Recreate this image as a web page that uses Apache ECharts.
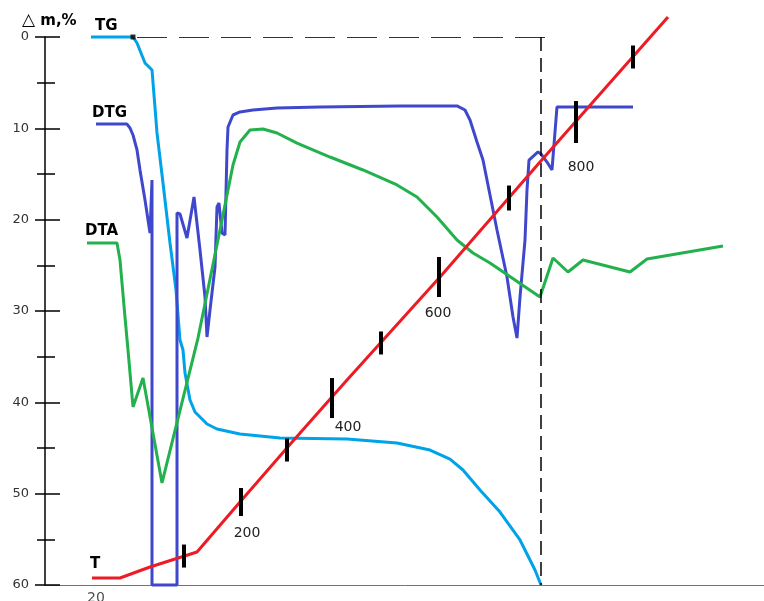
<!DOCTYPE html>
<html><head><meta charset="utf-8">
<script src="https://cdn.jsdelivr.net/npm/echarts/dist/echarts.min.js"></script>
<style>html,body{margin:0;padding:0;background:#fff}#c{width:764px;height:601px}</style>
</head><body><div id="c"></div>
<script>
// x: abstract time axis (not labelled); y: mass change Δm, % (inverted)
const yTicks = [0, 10, 20, 30, 40, 50, 60];

const tgX = [46,88,92,100,107,112,118,125,131,135,138,140,145,150,155,162,172,195,235,302,352,385,405,418,435,455,475,490,496];
const tgY = [0,0,0.66,2.85,3.61,10.51,15.99,22.55,27.70,33.18,34.27,36.79,39.74,41.06,41.61,42.37,42.92,43.47,43.91,44.01,44.45,45.22,46.21,47.41,49.60,52.01,55.07,58.36,60];

const dtgX = [51,82,85,88,92,95,100,105,107,107,132,132,135,142,149,155,160,162,165,170,172,174,177,180,182,183,188,195,208,232,275,355,412,420,425,432,438,445,452,462,468,472,475,480,482,484,493,496,502,507,508,512,588];
const dtgY = [9.53,9.53,9.96,10.73,12.37,14.56,17.85,21.46,15.66,60,60,19.27,19.38,22.01,17.52,23.32,28.47,32.85,29.89,25.18,18.61,18.18,21.46,21.68,12.37,9.85,8.54,8.21,7.99,7.77,7.66,7.55,7.55,7.99,9.09,11.50,13.47,17.30,21.13,26.28,30.66,32.96,28.47,22.23,16.75,13.47,12.59,12.81,13.69,14.56,13.14,7.66,7.66];

const dtaX = [42,72,75,80,83,88,98,117,153,175,181,188,195,205,218,232,252,285,318,352,372,392,412,428,445,495,508,523,538,585,602,678];
const dtaY = [22.55,22.55,24.42,30.66,34.27,40.51,37.34,48.83,32.96,21.13,17.85,14.01,11.50,10.18,10.07,10.51,11.61,13.14,14.56,16.20,17.52,19.71,22.23,23.65,24.74,28.47,24.20,25.73,24.42,25.73,24.31,22.88];

const tX = [47,75,105,152,195,248,302,395,495,623];
const tY = [59.23,59.23,58.03,56.39,50.91,44.23,37.55,26.28,13.69,-2.19];

// temperature marks along the T curve
const tickTemp = [100,200,300,400,500,600,700,800,900];
const tickX = [139,196,242,287,336,394,464,531,588];
const tickY = [56.83,50.91,45.22,39.53,33.50,26.28,17.63,9.31,2.19];
const labelledTemps = [200,400,600,800];
const startTemp = '20';

// reference lines (x of the vertical dashed line, extent of the horizontal one)
const guideX = 496;
const guideHStart = 92, guideHEnd = 508;

// ---- styling ----
const tickHeight = {100:23,200:28,300:23,400:40,500:23,600:40,700:25,800:42,900:23};
const labelOffset = {200:[6,31],400:[16,29],600:[-1,36],800:[5,45]};
const FONT = '"DejaVu Sans", Verdana, sans-serif';

const zip = (a, b) => a.map((v, i) => [v, b[i]]);

const tickData = tickTemp.map((t, i) => ({
  value: [tickX[i], tickY[i]],
  symbolSize: [4, tickHeight[t]],
  label: labelledTemps.includes(t)
    ? { show: true, formatter: String(t), position: 'inside', offset: labelOffset[t], color: '#222', fontSize: 14, fontFamily: FONT }
    : { show: false }
}));

const chart = echarts.init(document.getElementById('c'));
const baseY = {
  type: 'value', inverse: true, min: yTicks[0], max: yTicks[yTicks.length - 1], interval: 10,
  position: 'left', splitLine: { show: false }
};
chart.setOption({
  animation: false,
  backgroundColor: '#fff',
  grid: { left: 45, right: 0, top: 37, bottom: 16 },
  xAxis: {
    type: 'value', min: 0, max: 719,
    axisLine: { show: true, onZero: false, lineStyle: { color: '#E8413F', width: 1 } },
    axisTick: { show: false }, axisLabel: { show: false }, splitLine: { show: false }
  },
  yAxis: [
    Object.assign({}, baseY, {
      axisLine: { show: true, lineStyle: { color: '#000', width: 1.5 } },
      axisTick: { show: true, inside: false, length: 10, lineStyle: { color: '#000', width: 1.5 } },
      minorTick: { show: true, splitNumber: 2, length: 8, lineStyle: { color: '#000', width: 1.5 } },
      axisLabel: { margin: 16, color: '#333', fontSize: 13, fontFamily: FONT }
    }),
    Object.assign({}, baseY, {
      axisLine: { show: false },
      axisTick: { show: true, inside: true, length: 15, lineStyle: { color: '#000', width: 1.5 } },
      minorTick: { show: true, splitNumber: 2, length: 10, lineStyle: { color: '#000', width: 1.5 } },
      axisLabel: { show: false }
    })
  ],
  series: [
    {
      name: 'TG', type: 'line', data: zip(tgX, tgY), showSymbol: false, symbol: 'none', clip: false,
      lineStyle: { color: '#00A2E8', width: 3 }, z: 2,
      markLine: {
        silent: true, symbol: ['none', 'none'], label: { show: false }, animation: false,
        data: [
          [{ coord: [guideHStart, 0], lineStyle: { type: [30, 12], color: '#333', width: 1 } }, { coord: [guideHEnd, 0] }],
          [{ coord: [guideX, 0], lineStyle: { type: [14, 7], color: '#000', width: 1.5 } }, { coord: [guideX, 60] }]
        ]
      }
    },
    { name: 'DTG', type: 'line', data: zip(dtgX, dtgY), symbol: 'none', clip: false, lineStyle: { color: '#3F48CC', width: 3 }, z: 3 },
    { name: 'DTA', type: 'line', data: zip(dtaX, dtaY), symbol: 'none', clip: false, lineStyle: { color: '#22B14C', width: 3 }, z: 4 },
    { name: 'T', type: 'line', data: zip(tX, tY), symbol: 'none', clip: false, lineStyle: { color: '#ED1C24', width: 3 }, z: 5 },
    {
      name: 'Tmarks', type: 'scatter', data: tickData, symbol: 'rect', clip: false,
      itemStyle: { color: '#000', opacity: 1 }, z: 6
    },
    {
      name: 'Tstart', type: 'scatter', clip: false, symbol: 'rect', symbolSize: 1,
      itemStyle: { color: 'rgba(0,0,0,0)' },
      data: [{ value: [tX[0], tY[0]], label: { show: true, formatter: startTemp, position: 'inside', offset: [4, 20], color: '#222', fontSize: 14, fontFamily: FONT } }],
      z: 6
    },
    {
      name: 'dot', type: 'scatter', clip: false, symbol: 'rect', symbolSize: 5,
      itemStyle: { color: '#000' }, data: [[tgX[1], tgY[1]]], z: 7
    }
  ],
  graphic: [
    { type: 'text', x: 22, y: 21, style: { text: '{a|△}{b| m,%}', verticalAlign: 'middle', rich: {
      a: { font: '17px ' + FONT, fill: '#000' },
      b: { font: 'bold 15px ' + FONT, fill: '#000' } } } },
    { type: 'text', x: 95, y: 26, style: { text: 'TG', font: 'bold 15px ' + FONT, fill: '#000', verticalAlign: 'middle' } },
    { type: 'text', x: 92, y: 113, style: { text: 'DTG', font: 'bold 15px ' + FONT, fill: '#000', verticalAlign: 'middle' } },
    { type: 'text', x: 85, y: 231, style: { text: 'DTA', font: 'bold 15px ' + FONT, fill: '#000', verticalAlign: 'middle' } },
    { type: 'text', x: 90, y: 564, style: { text: 'T', font: 'bold 15px ' + FONT, fill: '#000', verticalAlign: 'middle' } }
  ]
});
</script>
</body></html>
